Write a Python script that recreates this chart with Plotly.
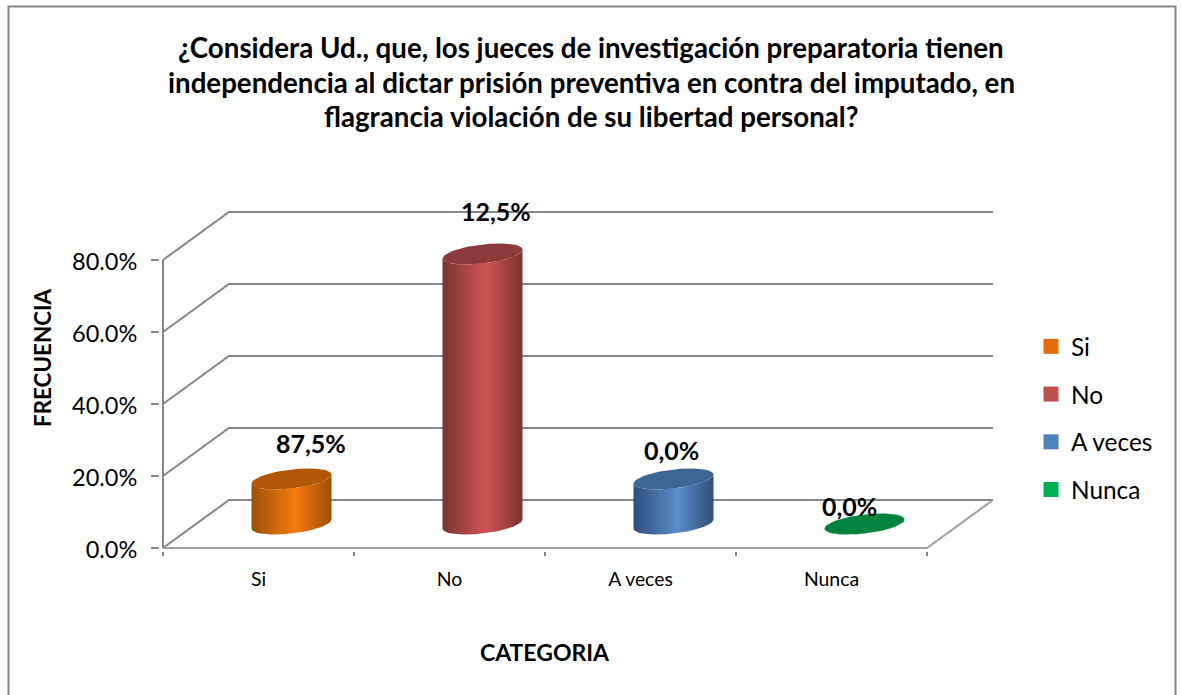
import numpy as np
import plotly.graph_objects as go

CATEGORIES = ["Si", "No", "A veces", "Nunca"]
# heights as drawn in the picture; the printed labels do not agree with them
VALUES = [12.5, 75.0, 12.5, 0.0]
LABELS = ["87,5%", "12,5%", "0,0%", "0,0%"]
LABEL_SHIFT = [(19, 36), (13, 43), (-2, 29), (-15, 18)]
Y_TICKS = [0, 20, 40, 60, 80]
TITLE_LINES = [
    "¿Considera Ud., que, los jueces de investigación preparatoria tienen",
    "independencia al dictar prisión preventiva en contra del imputado, en",
    "flagrancia violación de su libertad personal?",
]

SWATCH = ["#e46c0a", "#c0504d", "#4f81bd", "#00b050"]
EDGE = ["#9a5006", "#7a3331", "#2f4f7a", "#04763a"]
MID = ["#f77b0e", "#cf5554", "#5b8cca", "#05843f"]
TOP = ["#b25708", "#8f3a3a", "#3f6595", "#05843f"]

FONT = "Lato, Carlito, Calibri, sans-serif"
GREY = "#868686"

# pixel layout of the plot box, with a small pad so the walls are not clipped
PAD = 3
LEFT, RIGHT, TOP_PX, BOTTOM = 163 - PAD, 993 + PAD, 212 - PAD, 548 + PAD
PX_X = 191.0  # pixels per category
PX_Y = 3.6  # pixels per percent
DEPTH_X = 66 / PX_X
DEPTH_Y = 48 / PX_Y
N = len(CATEGORIES)


def paper_x(px):
    return (px - LEFT) / (RIGHT - LEFT)


def paper_y(px):
    return (BOTTOM - px) / (BOTTOM - TOP_PX)


def ellipse(cx, cy, t):
    # tilted ellipse, left end lower than the right one
    x = cx + 40 / PX_X * np.cos(t)
    y = cy + (9.5 * np.sin(t) + 4.5 * np.cos(t)) / PX_Y
    return x, y


def add_line(fig, xs, ys, color=GREY, width=2):
    fig.add_trace(go.Scatter(
        x=xs, y=ys, mode="lines", line=dict(color=color, width=width),
        showlegend=False, hoverinfo="skip", cliponaxis=False,
    ))


fig = go.Figure()

# back wall, side wall and floor
for v in Y_TICKS:
    add_line(fig, [0, DEPTH_X, N + DEPTH_X], [v, v + DEPTH_Y, v + DEPTH_Y])
add_line(fig, [0, 0], [0, Y_TICKS[-1]])
add_line(fig, [0, N, N + DEPTH_X], [0, 0, DEPTH_Y], color="#a0a0a0")

t_top = np.linspace(0, 2 * np.pi, 73)
t_near = np.linspace(np.pi, 2 * np.pi, 37)  # left to right along the near side

for i, value in enumerate(VALUES):
    cx = i + 0.5 + DEPTH_X / 2
    base = DEPTH_Y / 2
    low_x, low_y = ellipse(cx, base, t_near)
    high_x, high_y = ellipse(cx, base + value, t_near)
    body_x = np.concatenate([low_x, high_x[::-1], low_x[:1]])
    body_y = np.concatenate([low_y, high_y[::-1], low_y[:1]])
    fig.add_trace(go.Scatter(
        x=body_x, y=body_y, mode="lines", line=dict(width=0), fill="toself",
        fillgradient=dict(
            type="horizontal",
            colorscale=[[0, EDGE[i]], [0.55, MID[i]], [1, EDGE[i]]],
        ),
        showlegend=False, hoverinfo="skip", cliponaxis=False,
    ))
    cap_x, cap_y = ellipse(cx, base + value, t_top)
    fig.add_trace(go.Scatter(
        x=cap_x, y=cap_y, mode="lines", line=dict(width=0), fill="toself",
        fillcolor=TOP[i], showlegend=False, hoverinfo="skip", cliponaxis=False,
    ))
    fig.add_annotation(
        x=cx, y=base + value, text=f"<b>{LABELS[i]}</b>", showarrow=False,
        xshift=LABEL_SHIFT[i][0], yshift=LABEL_SHIFT[i][1],
        font=dict(family=FONT, size=25, color="#000000"),
    )

# legend entries
for i, name in enumerate(CATEGORIES):
    fig.add_trace(go.Scatter(
        x=[None], y=[None], mode="markers", name=name, legendgroup=name,
        marker=dict(symbol="square", size=15, color=SWATCH[i]),
    ))

# title lines and axis titles
for line, y_px in zip(TITLE_LINES, [47, 82, 117]):
    fig.add_annotation(
        xref="paper", yref="paper", x=paper_x(591), y=paper_y(y_px),
        xanchor="center", yanchor="middle",
        text=f"<b>{line}</b>", showarrow=False,
        font=dict(family=FONT, size=27.7, color="#000000"),
    )
fig.add_annotation(
    xref="paper", yref="paper", x=paper_x(42), y=paper_y(358),
    xanchor="center", yanchor="middle",
    text="<b>FRECUENCIA</b>", textangle=-90, showarrow=False,
    font=dict(family=FONT, size=22.4, color="#000000"),
)
fig.add_annotation(
    xref="paper", yref="paper", x=paper_x(545), y=paper_y(652),
    xanchor="center", yanchor="middle",
    text="<b>CATEGORIA</b>", showarrow=False,
    font=dict(family=FONT, size=23, color="#000000"),
)

# outer chart border, runs off the bottom of the page
fig.add_shape(
    type="rect", xref="paper", yref="paper", layer="below",
    x0=paper_x(8.5), x1=paper_x(1175.5), y0=paper_y(705), y1=paper_y(6.5),
    line=dict(color=GREY, width=2), fillcolor="#ffffff",
)

fig.update_layout(
    width=1181,
    height=695,
    margin=dict(l=LEFT, r=1181 - RIGHT, t=TOP_PX, b=695 - BOTTOM, autoexpand=False),
    paper_bgcolor="#ffffff",
    plot_bgcolor="rgba(0,0,0,0)",
    font=dict(family=FONT, color="#000000"),
    hovermode=False,
    legend=dict(
        x=paper_x(1031), y=paper_y(418), xanchor="left", yanchor="middle",
        font=dict(family=FONT, size=24.4), tracegroupgap=13, itemsizing="trace",
        bgcolor="rgba(0,0,0,0)",
    ),
    xaxis=dict(
        range=[-PAD / PX_X, N + DEPTH_X + PAD / PX_X], showgrid=False, zeroline=False,
        showline=False, tickmode="array", tickvals=[i + 0.5 for i in range(N)],
        ticktext=CATEGORIES, ticks="", tickfont=dict(family=FONT, size=19.4),
        ticklabelstandoff=15,
        minor=dict(tickmode="array", tickvals=list(range(N + 1)), ticks="outside",
                   ticklen=4, tickwidth=2, tickcolor=GREY),
    ),
    yaxis=dict(
        range=[-PAD / PX_Y, Y_TICKS[-1] + DEPTH_Y + PAD / PX_Y], showgrid=False,
        zeroline=False, showline=False, tickmode="array", tickvals=Y_TICKS,
        ticktext=[f"{v:.1f}%" for v in Y_TICKS], ticks="outside", ticklen=8,
        tickwidth=2, tickcolor=GREY, tickfont=dict(family=FONT, size=23.5),
        ticklabelstandoff=9, ticklabelshift=2,
    ),
)

fig.write_html(
    "out.html",
    config={"displayModeBar": False},
    post_script="document.body.style.margin='0'",
)
